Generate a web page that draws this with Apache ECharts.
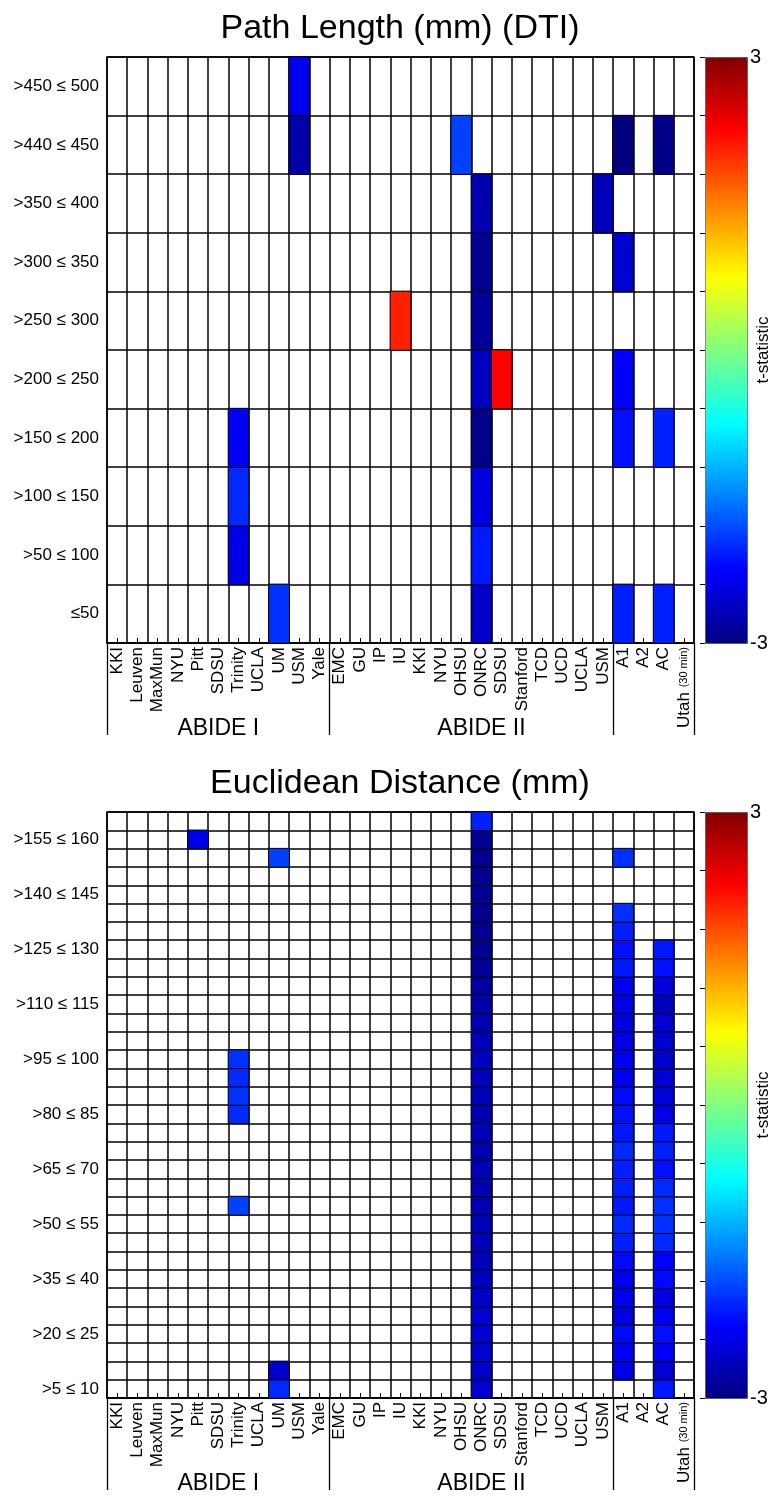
<!DOCTYPE html>
<html lang="en">
<head>
<meta charset="UTF-8">
<title>Path Length / Euclidean Distance t-statistic</title>
<script src="https://cdn.jsdelivr.net/npm/echarts@6/dist/echarts.min.js"></script>
<style>
  html, body { margin: 0; padding: 0; background: #fff; }
  #chart { width: 774px; height: 1498px; }
</style>
</head>
<body>
<div id="chart"></div>
<script>
// sites along x (ABIDE I: 0-10, ABIDE II: 11-24, then A1, A2, AC, Utah)
var sites = ['KKI', 'Leuven', 'MaxMun', 'NYU', 'Pitt', 'SDSU', 'Trinity', 'UCLA', 'UM', 'USM', 'Yale',
  'EMC', 'GU', 'IP', 'IU', 'KKI', 'NYU', 'OHSU', 'ONRC', 'SDSU', 'Stanford', 'TCD', 'UCD', 'UCLA', 'USM',
  'A1', 'A2', 'AC', 'Utah (30 min)'];
var groupNames = ['ABIDE I', 'ABIDE II'];
var groupStarts = [0, 11, 25];
var groupLabelAt = [5, 18];

// y categories, bottom -> top
var pathBins = ['≤50', '>50 ≤ 100', '>100 ≤ 150', '>150 ≤ 200', '>200 ≤ 250', '>250 ≤ 300',
  '>300 ≤ 350', '>350 ≤ 400', '>440 ≤ 450', '>450 ≤ 500'];
var euclidBins = ['>5 ≤ 10', '>10 ≤ 15', '>15 ≤ 20', '>20 ≤ 25', '>25 ≤ 30', '>30 ≤ 35', '>35 ≤ 40',
  '>40 ≤ 45', '>45 ≤ 50', '>50 ≤ 55', '>55 ≤ 60', '>60 ≤ 65', '>65 ≤ 70', '>70 ≤ 75', '>75 ≤ 80',
  '>80 ≤ 85', '>85 ≤ 90', '>90 ≤ 95', '>95 ≤ 100', '>100 ≤ 105', '>105 ≤ 110', '>110 ≤ 115',
  '>115 ≤ 120', '>120 ≤ 125', '>125 ≤ 130', '>130 ≤ 135', '>135 ≤ 140', '>140 ≤ 145', '>145 ≤ 150',
  '>150 ≤ 155', '>155 ≤ 160', '>160 ≤ 165'];

// path length t-statistics, per site, bins bottom -> top (null = not significant)
var pathTrinity1 = [null, -2.39, -2.01, -2.29, null, null, null, null, null, null];
var pathUM1 = [-1.97, null, null, null, null, null, null, null, null, null];
var pathUSM1 = [null, null, null, null, null, null, null, null, -2.76, -2.34];
var pathIU2 = [null, null, null, null, null, 2.06, null, null, null, null];
var pathOHSU2 = [null, null, null, null, null, null, null, null, -1.87, null];
var pathONRC2 = [-2.57, -2.10, -2.43, -2.95, -2.62, -2.86, -2.90, -2.71, null, null];
var pathSDSU2 = [null, null, null, null, 2.25, null, null, null, null, null];
var pathUSM2 = [null, null, null, null, null, null, null, -2.67, null, null];
var pathA1 = [-2.06, null, null, -2.16, -2.25, null, -2.53, null, -3.0, null];
var pathAC = [-2.06, null, null, -2.06, null, null, null, null, -2.95, null];

// euclidean distance t-statistics; sparse sites as [binIndex, t]
var euclidPitt1 = [[30, -2.39]];
var euclidTrinity1 = [[10, -1.87], [15, -2.01], [16, -1.97], [17, -2.01], [18, -1.97]];
var euclidUM1 = [[0, -2.01], [1, -2.57], [29, -1.87]];
// full columns, bins bottom -> top
var euclidONRC2 = [-2.53, -2.57, -2.53, -2.53, -2.53, -2.57, -2.62, -2.67, -2.67, -2.67,
  -2.71, -2.71, -2.67, -2.71, -2.67, -2.71, -2.67, -2.67, -2.62, -2.67,
  -2.71, -2.76, -2.81, -2.86, -2.90, -2.90, -2.90, -2.90, -2.90, -2.90, -2.90, -2.06];
var euclidA1 = [null, -2.39, -2.29, -2.20, -2.43, -2.34, -2.34, -2.20, -2.06, -2.01,
  -2.11, -2.06, -2.06, -2.01, -2.11, -2.16, -2.20, -2.34, -2.34, -2.39,
  -2.43, -2.39, -2.34, -2.11, -2.16, -2.06, -1.97, null, null, -1.97, null, null];
var euclidAC = [-2.11, -2.53, -2.29, -2.16, -2.34, -2.43, -2.20, -2.25, -2.01, -1.97,
  -1.97, -2.01, -2.16, -2.06, -2.11, -2.39, -2.48, -2.53, -2.53, -2.53,
  -2.53, -2.62, -2.43, -2.16, -2.11, null, null, null, null, null, null, null];

var tMin = -3, tMax = 3, tStep = 0.6;
var jet = ['#000080', '#0000ff', '#0080ff', '#00ffff', '#80ff80', '#ffff00', '#ff8000', '#ff0000', '#800000'];
var FONT = '"Liberation Sans", Arial, Helvetica, sans-serif';

function column(siteIdx, values) {
  var out = [];
  values.forEach(function (v, j) {
    if (v !== null) out.push([siteIdx, j, v]);
  });
  return out;
}
function sparse(siteIdx, pairs) {
  return pairs.map(function (p) { return [siteIdx, p[0], p[1]]; });
}

var pathData = [].concat(
  column(6, pathTrinity1), column(8, pathUM1), column(9, pathUSM1),
  column(14, pathIU2), column(17, pathOHSU2), column(18, pathONRC2),
  column(19, pathSDSU2), column(24, pathUSM2), column(25, pathA1), column(27, pathAC)
);
var euclidData = [].concat(
  sparse(4, euclidPitt1), sparse(6, euclidTrinity1), sparse(8, euclidUM1),
  column(18, euclidONRC2), column(25, euclidA1), column(27, euclidAC)
);

var gridLine = { color: '#000', width: 1.5 };

function siteAxis(gi) {
  return {
    type: 'category', gridIndex: gi, data: sites, position: 'bottom',
    axisLine: { show: true, lineStyle: { color: '#000', width: 1.5 } },
    axisTick: { show: true, inside: true, alignWithLabel: true, interval: 0, length: 5, lineStyle: { color: '#000' } },
    axisLabel: {
      interval: 0, rotate: 90, margin: 4, color: '#000', fontFamily: FONT, fontSize: 17,
      formatter: function (v) {
        var m = v.match(/^(\S+) (\(.*\))$/);
        return m ? '{a|' + m[1] + '} {b|' + m[2] + '}' : v;
      },
      rich: {
        a: { fontFamily: FONT, fontSize: 17, color: '#000' },
        b: { fontFamily: FONT, fontSize: 11, color: '#000' }
      }
    },
    splitLine: { show: true, interval: 0, lineStyle: gridLine }
  };
}
function groupAxis(gi) {
  return {
    type: 'category', gridIndex: gi, data: sites, position: 'bottom',
    axisLine: { show: false },
    axisTick: {
      show: true, length: 92, lineStyle: { color: '#000', width: 1.3 },
      interval: function (i) { return groupStarts.indexOf(i) >= 0; }
    },
    axisLabel: {
      margin: 74, color: '#000', fontFamily: FONT, fontSize: 23,
      interval: function (i) { return groupLabelAt.indexOf(i) >= 0; },
      formatter: function (v, i) { return groupNames[groupLabelAt.indexOf(i)] || ''; }
    },
    splitLine: { show: false }
  };
}
function binAxis(gi, bins, every) {
  return {
    type: 'category', gridIndex: gi, data: bins,
    axisLine: { show: false }, axisTick: { show: false },
    axisLabel: { interval: every, margin: 8, color: '#000', fontFamily: FONT, fontSize: 17 },
    splitLine: { show: true, interval: 0, lineStyle: gridLine }
  };
}
function barAxis(gi) {
  return {
    type: 'value', gridIndex: gi, position: 'right', min: tMin, max: tMax, interval: tStep, z: 10,
    axisLine: { show: false },
    axisTick: { show: true, inside: true, length: 5, lineStyle: { color: '#000' } },
    axisLabel: {
      margin: 3, align: 'left', color: '#000', fontFamily: FONT, fontSize: 20,
      formatter: function (v) { return Math.abs(Math.abs(v) - 3) < 1e-6 ? String(Math.round(v)) : ''; }
    },
    splitLine: { show: false },
    name: 't-statistic', nameLocation: 'middle', nameRotate: 90, nameGap: 8, nameMoveOverlap: false,
    nameTextStyle: { color: '#000', fontFamily: FONT, fontSize: 17 }
  };
}
function colorBar(seriesIndex, top) {
  return {
    type: 'continuous', seriesIndex: seriesIndex, min: tMin, max: tMax, calculable: false,
    left: 705, top: top, itemWidth: 42, itemHeight: 586, padding: 0,
    borderColor: '#555', borderWidth: 1,
    inRange: { color: jet }
  };
}
function titleAt(text, top) {
  return {
    text: text, left: 400, top: top, textAlign: 'center', padding: 0,
    textStyle: { fontFamily: FONT, fontSize: 34, fontWeight: 'normal', color: '#000' }
  };
}
function gridAt(top, left, width, framed) {
  var g = { left: left, top: top, width: width, height: 586, containLabel: false, outerBoundsMode: 'none' };
  if (framed) {
    g.show = true; g.backgroundColor = '#fff'; g.borderColor = '#000'; g.borderWidth = 1.5;
  }
  return g;
}

var chart = echarts.init(document.getElementById('chart'));
chart.setOption({
  backgroundColor: '#fff',
  animation: false,
  title: [titleAt('Path Length (mm) (DTI)', 12), titleAt('Euclidean Distance (mm)', 767)],
  grid: [gridAt(57, 107, 587, true), gridAt(812, 107, 587, true), gridAt(57, 705, 42, false), gridAt(812, 705, 42, false)],
  xAxis: [
    siteAxis(0), groupAxis(0), siteAxis(1), groupAxis(1),
    { type: 'value', gridIndex: 2, min: 0, max: 1, show: false },
    { type: 'value', gridIndex: 3, min: 0, max: 1, show: false }
  ],
  yAxis: [
    binAxis(0, pathBins, 0), binAxis(1, euclidBins, 2), barAxis(2), barAxis(3)
  ],
  visualMap: [colorBar(0, 57), colorBar(1, 812)],
  series: [
    {
      type: 'heatmap', name: 'Path Length', xAxisIndex: 0, yAxisIndex: 0, data: pathData,
      itemStyle: { borderColor: '#000', borderWidth: 1 }, emphasis: { disabled: true }
    },
    {
      type: 'heatmap', name: 'Euclidean Distance', xAxisIndex: 2, yAxisIndex: 1, data: euclidData,
      itemStyle: { borderColor: '#000', borderWidth: 1 }, emphasis: { disabled: true }
    }
  ]
});
</script>
</body>
</html>
